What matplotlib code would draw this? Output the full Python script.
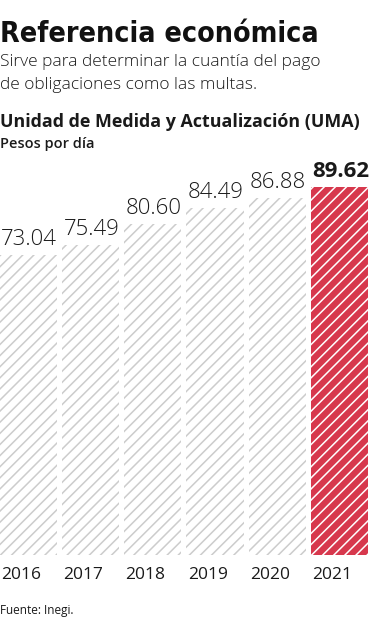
import matplotlib.pyplot as plt

# Datos
anios = ['2016', '2017', '2018', '2019', '2020', '2021']
valores = [73.04, 75.49, 80.60, 84.49, 86.88, 89.62]
etiquetas = ['73.04', '75.49', '80.60', '84.49', '86.88', '89.62']

plt.rcParams['hatch.linewidth'] = 1.1

W, H = 370, 620
fig = plt.figure(figsize=(W / 100, H / 100), dpi=100)
fig.patch.set_facecolor('white')

def px(x, y):
    return x / W, 1 - y / H

# Ejes de barras (pixeles: abajo 555, arriba 160)
ax = fig.add_axes([0, 65 / H, 1, 395 / H])
ax.set_xlim(0, 5.955)
ax.set_ylim(0, 89.62 * 395 / 368)
ax.axis('off')

rojo = '#d7384d'
gris = '#cccccc'
for i, (a, v) in enumerate(zip(anios, valores)):
    ultimo = i == len(valores) - 1
    ax.bar(i, v, width=0.92, align='edge',
           facecolor=rojo if ultimo else 'white',
           edgecolor='white' if ultimo else gris,
           hatch='///', linewidth=0)
    ax.text(i + 0.02, v + 1.2, etiquetas[i], ha='left', va='bottom',
            fontsize=16, family='Open Sans',
            fontweight='bold' if ultimo else 'light', color='#1a1a1a')
    ax.text(i + 0.02, -3.0, a, ha='left', va='top', fontsize=12.5,
            family='Open Sans', color='#1a1a1a', clip_on=False)

# Textos
fig.text(*px(0, 42), 'Referencia económica', fontsize=20.5, fontweight='bold',
         family='DejaVu Sans', fontstretch='condensed', color='#111111',
         ha='left', va='baseline')
fig.text(*px(0, 66), 'Sirve para determinar la cuantía del pago',
         fontsize=12.5, family='Open Sans', fontweight='light',
         color='#1a1a1a', va='baseline')
fig.text(*px(0, 89), 'de obligaciones como las multas.',
         fontsize=12.5, family='Open Sans', fontweight='light',
         color='#1a1a1a', va='baseline')
fig.text(*px(0, 127), 'Unidad de Medida y Actualización (UMA)',
         fontsize=12.9, fontweight='bold', family='Open Sans', color='#1a1a1a',
         va='baseline')
fig.text(*px(0, 148), 'Pesos por día', fontsize=10.5, fontweight='semibold',
         family='Open Sans', color='#1a1a1a', va='baseline')
fig.text(*px(0, 614), 'Fuente: Inegi.', fontsize=8.5, family='Open Sans',
         color='#1a1a1a', va='baseline')

fig.savefig('out.png', dpi=100)
